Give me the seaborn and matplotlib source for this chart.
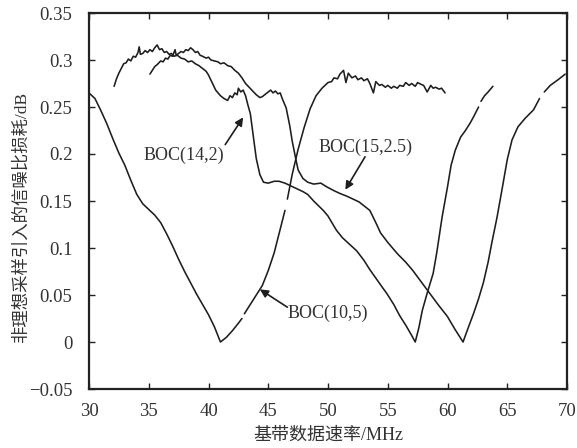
import numpy as np
import pandas as pd
import matplotlib
matplotlib.use("Agg")
import matplotlib.pyplot as plt
import seaborn as sns

nan = np.nan

# ---------------- data ----------------
boc10_5_x = [30.0, 30.5, 31.0, 31.5, 32.0, 32.5, 33.0, 33.5, 34.0, 34.5, 35.0, 35.5,
             36.0, 36.5, 37.0, 37.5, 38.0, 38.5, 39.0, 39.5, 40.0, 40.5, 41.0, 41.5,
             42.0, 42.5, 42.8, nan, 43.0, 43.5, 44.0, 44.5, 45.0, 45.5, 46.0, 46.4, nan,
             46.6, 47.0, 47.5, 48.0, 48.5, 49.0, 49.5, 50.0, 50.3, 50.5, 50.8, 51.0,
             51.3, 51.5, 51.7, 52.0, 52.3, 52.5, 52.8, 53.0, 53.3, 53.5, 53.8, 54.0,
             54.3, 54.5, 54.8, 55.0, 55.3, 55.5, 55.8, 56.0, 56.3, 56.5, 56.8, 57.0,
             57.3, 57.5, 57.8, 58.0, 58.3, 58.6, 58.8, 59.0, 59.3, 59.5, 59.8]
boc10_5_y = [0.265, 0.259, 0.246, 0.232, 0.216, 0.201, 0.188, 0.172, 0.157, 0.147, 0.141, 0.135,
             0.127, 0.115, 0.102, 0.088, 0.075, 0.063, 0.051, 0.040, 0.029, 0.016, 0.000, 0.005,
             0.012, 0.020, 0.025, nan, 0.030, 0.040, 0.050, 0.060, 0.076, 0.095, 0.120, 0.140, nan,
             0.152, 0.178, 0.205, 0.228, 0.248, 0.262, 0.270, 0.276, 0.277, 0.281, 0.280, 0.285,
             0.289, 0.276, 0.286, 0.281, 0.283, 0.279, 0.281, 0.278, 0.280, 0.275, 0.265, 0.277,
             0.273, 0.274, 0.271, 0.273, 0.270, 0.272, 0.270, 0.273, 0.272, 0.276, 0.273, 0.275,
             0.272, 0.276, 0.274, 0.273, 0.266, 0.273, 0.270, 0.271, 0.269, 0.270, 0.265]

boc14_2_x = [32.1, 32.3, 32.5, 32.7, 32.9, 33.1, 33.3, 33.5, 33.7, 33.9, 34.1, 34.2,
             34.3, 34.5, 34.7, 34.9, 35.1, 35.3, 35.5, 35.7, 35.9, 36.1, 36.3, 36.5,
             36.7, 36.9, 37.1, 37.4, 37.7, 38.0, 38.3, 38.6, 38.9, 39.2, 39.5, 39.8,
             40.0, 40.3, 40.6, 40.8, 41.0, 41.3, 41.6, 41.8, 42.0, 42.2, 42.4, 42.5,
             42.7, 42.9, 43.1, 43.3, 43.5, 43.8, 44.0, 44.3, 44.6, 45.0, 45.5, 45.9,
             46.4, 46.9, 47.4, 47.9, 48.3, 48.8, 49.2, 49.6, 50.0, 50.7, 51.2, 51.8,
             52.4, 53.0, 53.5, 54.0, 54.5, 54.9, 55.5, 56.0, 56.5, 57.0, 57.3, 57.6,
             57.9, 58.3, 58.8, 59.1, 59.55, 60.0, 60.3, 60.65, 61.1, 61.5, 61.9, 62.2,
             62.6, nan, 62.8, 63.1, 63.4, 63.8]
boc14_2_y = [0.272, 0.280, 0.286, 0.291, 0.296, 0.297, 0.301, 0.299, 0.304, 0.303, 0.308, 0.314,
             0.306, 0.307, 0.310, 0.308, 0.311, 0.309, 0.313, 0.316, 0.311, 0.312, 0.308, 0.309,
             0.306, 0.307, 0.304, 0.305, 0.302, 0.301, 0.298, 0.299, 0.296, 0.294, 0.291, 0.288,
             0.284, 0.276, 0.268, 0.265, 0.262, 0.259, 0.257, 0.262, 0.260, 0.265, 0.263, 0.270,
             0.266, 0.268, 0.262, 0.252, 0.243, 0.214, 0.195, 0.178, 0.170, 0.169, 0.171, 0.171,
             0.169, 0.166, 0.163, 0.160, 0.157, 0.150, 0.145, 0.140, 0.134, 0.119, 0.111, 0.104,
             0.097, 0.087, 0.077, 0.068, 0.059, 0.052, 0.040, 0.028, 0.018, 0.007, 0.000, 0.015,
             0.034, 0.052, 0.073, 0.095, 0.133, 0.165, 0.188, 0.204, 0.218, 0.225, 0.233, 0.240,
             0.250, nan, 0.256, 0.262, 0.266, 0.272]

boc15_25_x = [35.1, 35.3, 35.5, 35.7, 36.0, 36.2, 36.4, 36.6, 36.8, 37.0, 37.2, 37.3,
              37.5, 37.7, 37.9, 38.1, 38.3, 38.5, 38.7, 38.9, 39.1, 39.3, 39.5, 39.8,
              40.0, 40.2, 40.5, 40.8, 41.0, 41.3, 41.6, 41.9, 42.2, 42.5, 42.8, 43.1,
              43.4, 43.7, 44.0, 44.3, 44.5, 44.8, 45.0, 45.2, 45.4, 45.6, 45.8, 46.0,
              46.2, 46.5, 46.8, 47.0, 47.3, 47.5, 47.9, 48.3, 48.8, 49.4, 49.9, 50.5,
              51.0, 51.6, 52.1, 52.6, 53.0, 53.5, 54.0, 54.4, 55.0, 55.8, 56.5, 57.1,
              57.8, 58.5, 59.2, 60.0, 60.6, 61.3, 61.7, 62.2, 62.6, 63.0, 63.4, 63.7,
              64.15, 64.6, 65.0, 65.4, 65.9, 66.5, 67.2, 67.7, nan, 68.1, 68.6, 69.25,
              69.85]
boc15_25_y = [0.285, 0.289, 0.293, 0.295, 0.299, 0.298, 0.302, 0.301, 0.305, 0.304, 0.311, 0.305,
              0.307, 0.309, 0.308, 0.311, 0.310, 0.313, 0.311, 0.308, 0.309, 0.305, 0.304, 0.302,
              0.303, 0.300, 0.299, 0.298, 0.296, 0.297, 0.294, 0.293, 0.289, 0.286, 0.281, 0.275,
              0.271, 0.267, 0.263, 0.260, 0.261, 0.264, 0.266, 0.268, 0.265, 0.267, 0.264, 0.265,
              0.258, 0.249, 0.230, 0.214, 0.195, 0.183, 0.174, 0.170, 0.168, 0.169, 0.165, 0.161,
              0.158, 0.155, 0.152, 0.149, 0.145, 0.140, 0.127, 0.116, 0.106, 0.094, 0.085, 0.076,
              0.064, 0.052, 0.040, 0.027, 0.014, 0.000, 0.014, 0.031, 0.046, 0.063, 0.085, 0.105,
              0.133, 0.165, 0.194, 0.215, 0.229, 0.238, 0.247, 0.259, nan, 0.266, 0.273, 0.279,
              0.285]

series_names = ["BOC(10,5)", "BOC(14,2)", "BOC(15,2.5)"]
series_x = [boc10_5_x, boc14_2_x, boc15_25_x]
series_y = [boc10_5_y, boc14_2_y, boc15_25_y]

x_ticks = [30, 35, 40, 45, 50, 55, 60, 65, 70]
x_tick_labels = ["30", "35", "40", "45", "50", "55", "60", "65", "70"]
y_ticks = [-0.05, 0, 0.05, 0.1, 0.15, 0.2, 0.25, 0.3, 0.35]
y_tick_labels = ["\u22120.05", "0", "0.05", "0.1", "0.15", "0.2", "0.25", "0.3", "0.35"]

x_label = "基带数据速率/MHz"
y_label = "非理想采样引入的信噪比损耗/dB"

# annotation: label, text position, arrow tail, arrow head (data coords)
ann_labels = ["BOC(14,2)", "BOC(15,2.5)", "BOC(10,5)"]
ann_text_xy = [(37.9, 0.199), (53.1, 0.207), (50.0, 0.030)]
ann_tail_xy = [(41.4, 0.210), (53.1, 0.197), (46.6, 0.037)]
ann_head_xy = [(42.9, 0.239), (51.45, 0.162), (44.3, 0.056)]

# ---------------- build segments ----------------
rows = []
seg = 0
for name, xs, ys in zip(series_names, series_x, series_y):
    seg += 1
    for xv, yv in zip(xs, ys):
        if np.isnan(xv):
            seg += 1
            continue
        rows.append({"x": xv, "y": yv, "series": name, "seg": seg})
df = pd.DataFrame(rows)

# ---------------- plot ----------------
sns.set_theme(style="ticks")
plt.rcParams["font.family"] = ["Liberation Serif", "Noto Sans CJK SC"]
plt.rcParams["axes.unicode_minus"] = True

fig = plt.figure(figsize=(5.77, 4.48), dpi=100)
ax = fig.add_axes([89 / 577, 59 / 448, (567 - 89) / 577, (389 - 13) / 448])

sns.lineplot(data=df, x="x", y="y", units="seg", estimator=None, sort=False,
             color="#1e1e1e", linewidth=1.15, ax=ax, legend=False)

ax.set_xlim(30, 70)
ax.set_ylim(-0.05, 0.35)
ax.set_xticks(x_ticks)
ax.set_xticklabels(x_tick_labels)
ax.set_yticks(y_ticks)
ax.set_yticklabels(y_tick_labels)

txt_color = "#333333"
ax.tick_params(direction="in", top=True, right=True, length=4, width=1.0,
               labelsize=13.5, labelcolor=txt_color, color="#222222")
ax.tick_params(axis="x", pad=10)
ax.tick_params(axis="y", pad=12)
for s in ax.spines.values():
    s.set_linewidth(1.6)
    s.set_color("#222222")

ax.set_xlabel(x_label, fontsize=13, color=txt_color,
              family=["Liberation Serif", "Noto Sans CJK SC"], labelpad=5)
ax.set_ylabel(y_label, fontsize=12.5, color=txt_color,
              family=["Liberation Serif", "Noto Sans CJK SC"])
ax.yaxis.set_label_coords(-0.125, 0.455)

for lab, txy, tail, head in zip(ann_labels, ann_text_xy, ann_tail_xy, ann_head_xy):
    ax.text(txy[0], txy[1], lab, ha="center", va="center", fontsize=13, color=txt_color)
    ax.annotate("", xy=head, xytext=tail,
                arrowprops=dict(arrowstyle="-|>", color="#1e1e1e", lw=1.2,
                                mutation_scale=12, shrinkA=0, shrinkB=0))

fig.savefig("out.png", dpi=100)
